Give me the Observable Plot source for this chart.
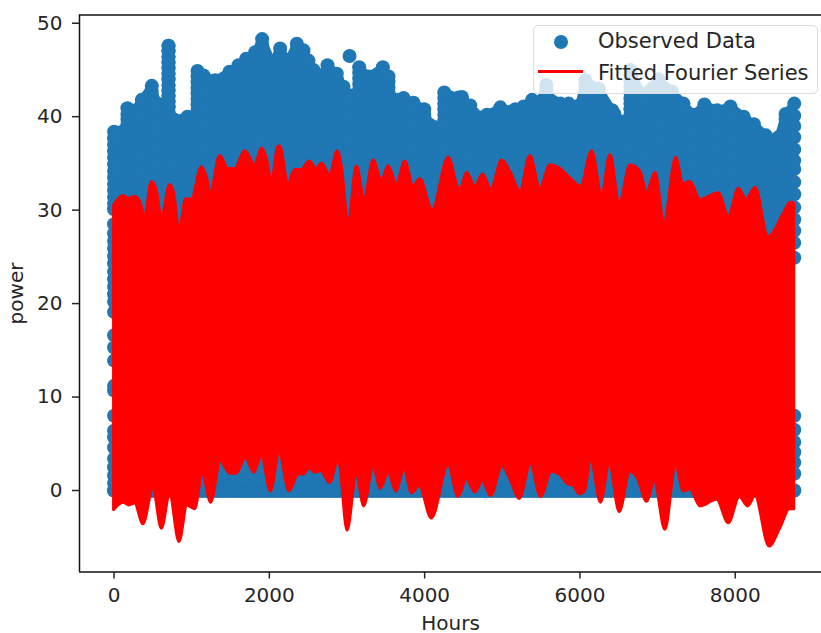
<!DOCTYPE html>
<html>
<head>
<meta charset="utf-8">
<script src="https://cdn.jsdelivr.net/npm/d3@7"></script>
<script src="https://cdn.jsdelivr.net/npm/@observablehq/plot@0.6"></script>
<style>
html,body{margin:0;padding:0;background:#fff;}
#wrap{position:relative;width:821px;height:633px;overflow:hidden;font-family:"DejaVu Sans",sans-serif;color:#262626;}
#legend{position:absolute;left:532.5px;top:25px;width:285px;height:69px;box-sizing:border-box;background:rgba(255,255,255,.8);border:1.5px solid #dcdcdc;border-radius:5px;}
#legend span{position:absolute;left:64.5px;font-size:21px;line-height:24px;white-space:nowrap;}
#legend i{position:absolute;display:block;}
</style>
</head>
<body>
<div id="wrap">
  <div id="chart"></div>
  <div id="legend">
    <i style="left:20px;top:9px;width:14px;height:14px;border-radius:50%;background:#1f77b4"></i>
    <span style="top:3px">Observed Data</span>
    <i style="left:4px;top:44px;width:45px;height:3px;background:#ff0000"></i>
    <span style="top:34.5px">Fitted Fourier Series</span>
  </div>
</div>
<script>
const xTicks = [0, 2000, 4000, 6000, 8000];
const yTicks = [0, 10, 20, 30, 40, 50];
const xDomain = [-445, 9111];
const yDomain = [-8.72, 50.88];

// Observed data: daily peak of each visible column
const peakHours = [0,170,172,250,357,486,560,700,701,702,703,774,946,1074,1075,1152,1302,1487,1603,1702,1818,1907,2036,2139,2233,2354,2440,2504,2569,2646,2749,2869,2955,3033,3156,3157,3277,3462,3535,3536,3643,3728,3857,3995,4072,4124,4252,4253,4437,4480,4588,4717,4803,4975,5082,5168,5275,5383,5482,5483,5567,5650,5748,5855,5941,5990,6070,6242,6414,6444,6520,6627,6650,6800,7011,7186,7333,7462,7603,7766,7938,8109,8240,8393,8420,8490,8557,8648,8760];
const peakPower = [38.4,38.9,40.9,40.6,41.8,43.3,41.4,41.8,47.6,47.6,40.0,39.7,40.0,40.2,44.9,44.4,43.9,44.8,45.5,46.2,46.9,48.3,45.7,47.3,45.9,47.8,47.1,46.0,45.0,44.3,45.5,44.6,43.2,42.3,42.5,45.3,44.3,45.3,44.3,41.8,41.8,42.0,41.5,40.8,39.1,38.9,39.2,42.6,42.05,42.1,41.2,39.9,40.2,41.0,40.5,40.8,41.1,41.8,41.4,41.6,43.4,41.6,41.4,41.4,41.05,41.2,43.9,43.0,40.7,40.3,39.5,39.5,45.0,42.4,44.0,42.7,41.4,40.2,41.3,40.7,41.1,40.0,39.2,38.0,35.5,36.7,37.8,40.3,41.4];
// Single point standing alone above the rest
const loneHour = [3033];
const lonePower = [46.5];
// Separate points on the first and last hour of the year
const firstHourPower = [38.4,37.7,37,36.3,35.6,34.9,34.2,33.5,32.8,32.1,31.4,30.7,30.1,28.5,27.5,26.7,25.9,25.1,24.3,23.4,22.6,21.8,21,20.2,19.1,16.6,15.3,13.9,11.2,10.7,8.0,6.4,5.7,4.6,3.4,2.5,1.6,0.8,0];
const lastHourPower = [41.4,40.1,39,37.8,36.5,35.3,34.4,33.0,31.7,30.3,29,27.8,26.5,24.9,8.0,6.5,5.2,4.1,3,1.8,0];
const firstHour = 0;
const lastHour = 8760;
// Night-time zero readings along the year
const zeroHours = d3.range(0, 8761, 10);

// Fitted series: upper envelope
const fitUpperHours = [0,121,185,271,336,400,486,550,615,722,774,842,928,1001,1130,1195,1246,1366,1474,1560,1689,1818,1904,1968,2032,2118,2139,2246,2332,2418,2517,2612,2676,2783,2878,2934,3020,3127,3226,3342,3449,3535,3643,3750,3857,3943,4102,4309,4437,4459,4545,4652,4751,4859,4996,5103,5232,5361,5490,5619,5748,5877,6014,6156,6285,6392,6512,6650,6779,6865,6972,7088,7239,7329,7423,7552,7789,7917,8046,8145,8261,8428,8626,8712,8760];
const fitUpper = [30.5,31.5,31.2,31.4,30.9,29.3,33.0,32.1,29.1,32.7,31.8,27.7,31.2,31.1,34.6,33.5,31.8,35.8,34.4,34.4,36.3,34.8,36.6,35.5,33.0,36.8,36.8,32.8,34.3,34.3,35.2,34.4,35.0,33.7,36.3,34.6,28.6,34.7,31.2,35.3,33.1,34.7,32.8,35.2,32.5,33.3,30.0,35.6,32.3,32.1,34.0,32.5,33.8,32.2,35.3,34.1,32.0,35.8,32.3,34.8,34.4,33.4,32.5,36.3,31.6,35.9,30.7,34.8,34.1,31.9,34.0,28.7,35.6,32.8,33.0,31.1,31.8,29.3,32.3,31.1,32.4,27.1,29.6,30.8,30.7];
// Fitted series: lower envelope
const fitLowerHours = [0,121,198,271,378,507,615,722,842,945,1044,1143,1250,1375,1495,1581,1697,1805,1904,2020,2131,2260,2376,2441,2518,2591,2664,2784,2892,2912,3007,3127,3221,3342,3436,3535,3634,3741,3836,3934,4093,4308,4437,4544,4652,4751,4854,5004,5111,5223,5369,5498,5640,5747,5842,5919,5996,6069,6142,6271,6383,6512,6649,6744,6864,6963,7100,7238,7337,7423,7552,7766,7917,8059,8166,8260,8441,8583,8703,8760];
const fitLower = [-2.1,-1.3,-1.6,-1.4,-3.6,0.2,-4.1,-0.4,-5.5,-1.6,-2.0,1.8,-1.3,3.1,1.8,1.8,3.5,1.9,3.7,-0.1,4.0,-0.1,1.7,1.7,2.4,1.9,2.1,0.8,3.4,2.7,-4.3,1.8,-1.7,2.5,0.2,1.9,-0.1,2.3,-0.3,0.5,-3.0,2.7,-0.7,1.2,-0.2,1.0,-0.6,2.6,1.05,-0.9,2.8,-0.7,2.0,1.66,0.7,0.5,-0.4,0.0,3.4,-1.3,2.9,-2.3,2.0,1.3,-1.2,0.98,-4.2,2.7,-0.1,0.1,-1.7,-1.0,-3.5,-0.7,-1.7,-0.6,-6.0,-4.0,-2.0,-2.0];
const fitMiddle = 15;

const blue = "#1f77b4";
const red = "#ff0000";
const dotR = 7;

// Each inner column of observations runs from its peak down to zero
const columnPoints = peakHours.flatMap((h, i) =>
  h > firstHour && h < lastHour ? d3.range(peakPower[i], 0, -0.6).map(p => ({h, p})) : []
);
const peakRows = peakHours.map((h, i) => ({h, p: peakPower[i]}));
const edgePoints = [
  ...firstHourPower.map(p => ({h: firstHour, p})),
  ...lastHourPower.map(p => ({h: lastHour, p})),
  ...zeroHours.map(h => ({h, p: 0})),
  ...loneHour.map((h, i) => ({h, p: lonePower[i]}))
];
const upperRows = fitUpperHours.map((h, i) => ({h, v: fitUpper[i]}));
const lowerRows = fitLowerHours.map((h, i) => ({h, v: fitLower[i]}));

const chart = Plot.plot({
  width: 821,
  height: 633,
  marginLeft: 79,
  marginRight: 0,
  marginTop: 14.5,
  marginBottom: 61.5,
  style: {fontFamily: "DejaVu Sans", fontSize: "20px", color: "#262626", background: "#fff"},
  x: {domain: xDomain, label: "Hours"},
  y: {domain: yDomain, label: "power"},
  marks: [
    Plot.areaY(peakRows, {x: "h", y1: 0, y2: "p", fill: blue, curve: "linear"}),
    Plot.line(peakRows, {x: "h", y: "p", stroke: blue, strokeWidth: 8, strokeLinejoin: "round", strokeLinecap: "round"}),
    Plot.dot(columnPoints, {x: "h", y: "p", r: dotR, fill: blue}),
    Plot.dot(edgePoints, {x: "h", y: "p", r: dotR, fill: blue}),
    Plot.areaY(upperRows, {x: "h", y1: fitMiddle, y2: "v", curve: "monotone-x", fill: red, stroke: red, strokeWidth: 3, strokeLinejoin: "round"}),
    Plot.areaY(lowerRows, {x: "h", y1: "v", y2: fitMiddle, curve: "monotone-x", fill: red, stroke: red, strokeWidth: 3, strokeLinejoin: "round"}),
    Plot.ruleX([xDomain[0]], {stroke: "#111", strokeWidth: 1.5}),
    Plot.ruleY([yDomain[0], yDomain[1]], {stroke: "#111", strokeWidth: 1.5}),
    Plot.axisX({ticks: xTicks, tickSize: 7, tickPadding: 9, tickFormat: d => String(d), labelAnchor: "center", labelArrow: "none", labelOffset: 58, strokeWidth: 1.5}),
    Plot.axisY({ticks: yTicks, tickSize: 7, tickPadding: 10, tickFormat: d => String(d), labelAnchor: "center", labelArrow: "none", labelOffset: 71, strokeWidth: 1.5})
  ]
});
document.getElementById("chart").appendChild(chart);
</script>
</body>
</html>
